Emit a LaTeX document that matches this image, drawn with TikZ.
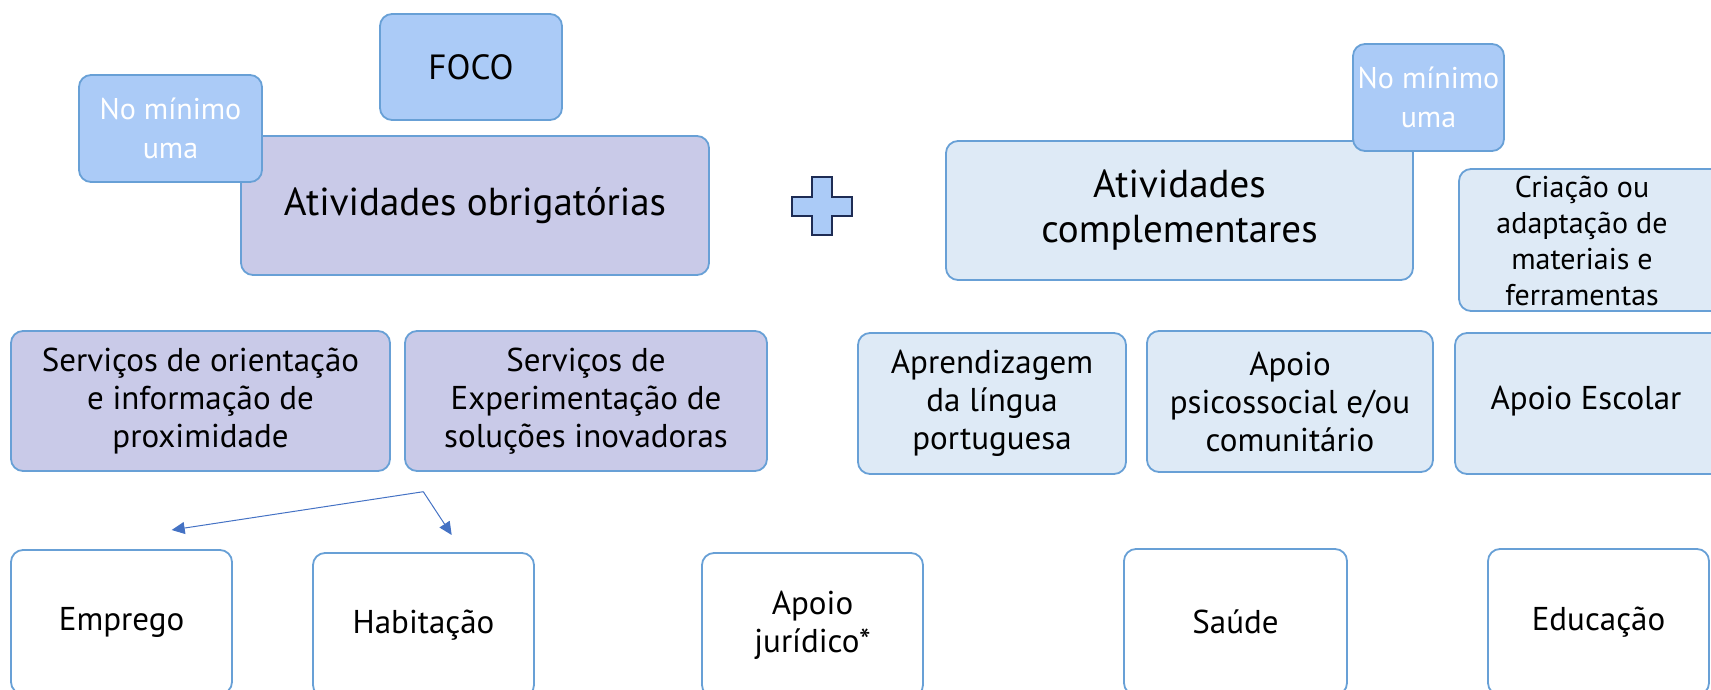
\documentclass[tikz,border=0pt]{standalone}
\usepackage{fontspec}
\setmainfont{PT Sans}
\usetikzlibrary{arrows.meta}
\definecolor{bordc}{RGB}{104,160,214}
\definecolor{purpc}{RGB}{201,202,232}
\definecolor{lightc}{RGB}{222,234,246}
\definecolor{midc}{RGB}{171,203,247}
\definecolor{navyc}{RGB}{30,44,84}
\definecolor{arrc}{RGB}{68,114,196}
\tikzset{
  box/.style={draw=bordc, line width=1.8pt, rounded corners=12pt, align=center, inner sep=0pt, text=black},
  purp/.style={box, fill=purpc},
  lite/.style={box, fill=lightc},
  mid/.style={box, fill=midc},
  wht/.style={box, fill=white},
  ftA/.style={font=\fontsize{39}{45}\selectfont},
  ftB/.style={font=\fontsize{33}{38}\selectfont},
  ftC/.style={font=\fontsize{30}{36}\selectfont},
  ftN/.style={font=\fontsize{30}{39}\selectfont},
  ftF/.style={font=\fontsize{35}{40}\selectfont},
  arr/.style={draw=arrc, line width=1pt, -{Triangle[length=13pt,width=12pt]}},
}
\begin{document}
\begin{tikzpicture}[x=1pt,y=-1pt]
\useasboundingbox (0,0) rectangle (1711,690);
\clip (0,0) rectangle (1711,690);
% top row left
\node[mid, ftF, minimum width=182pt, minimum height=106pt] (foco) at (471,67) {FOCO};
\node[purp, ftA, minimum width=468pt, minimum height=139pt] (obrig) at (475,205.5) {Atividades obrigatórias};
\node[mid, ftN, text=white, minimum width=183pt, minimum height=107pt] (noL) at (170.5,128.5) {No mínimo\\uma};
% plus
\draw[fill=midc, draw=navyc, line width=2.2pt]
  (812.3,177.3) -- (831.7,177.3) -- (831.7,197.3) -- (851.7,197.3) -- (851.7,215.7) -- (831.7,215.7)
  -- (831.7,235.3) -- (812.3,235.3) -- (812.3,215.7) -- (792,215.7) -- (792,197.3) -- (812.3,197.3) -- cycle;
% top row right
\node[lite, ftA, minimum width=467pt, minimum height=139pt] (compl) at (1179.5,210.5) {Atividades\\complementares};
\node[mid, ftN, text=white, minimum width=151pt, minimum height=107pt] (noR) at (1428.5,97.5) {No mínimo\\uma};
\node[lite, minimum width=271pt, minimum height=142pt] (criac) at (1594.5,240) {};
\node[ftC, align=center, inner sep=0pt] (criact) at (1582,241) {Criação ou\\adaptação de\\materiais e\\ferramentas};
% middle row
\node[purp, ftB, minimum width=379pt, minimum height=140pt] (orient) at (200.5,401) {Serviços de orientação\\e informação de\\proximidade};
\node[purp, ftB, minimum width=362pt, minimum height=140pt] (exper) at (586,401) {Serviços de\\Experimentação de\\soluções inovadoras};
\node[lite, ftB, minimum width=268pt, minimum height=141pt] (aprend) at (992,403.5) {Aprendizagem\\da língua\\portuguesa};
\node[lite, ftB, minimum width=286pt, minimum height=141pt] (psico) at (1290,401.5) {Apoio\\psicossocial e/ou\\comunitário};
\node[lite, minimum width=275pt, minimum height=141pt] (escolar) at (1592.5,403.5) {};
\node[ftB, inner sep=0pt] (escolart) at (1586,401) {Apoio Escolar};
% bottom row
\node[wht, ftB, minimum width=221pt, minimum height=144pt] (emprego) at (121.5,622) {Emprego};
\node[wht, ftB, minimum width=221pt, minimum height=144pt] (habit) at (423.5,625) {Habitação};
\node[wht, ftB, minimum width=221pt, minimum height=144pt] (jurid) at (812.5,625) {Apoio\\jurídico*};
\node[wht, ftB, minimum width=223pt, minimum height=146pt] (saude) at (1235.5,622) {Saúde};
\node[wht, ftB, minimum width=221pt, minimum height=146pt] (educ) at (1598.5,622) {Educação};
% arrows
\coordinate (asrc) at (423.3,491.7);
\coordinate (aL) at (171.7,530);
\coordinate (aR) at (451.7,535);
\draw[arr] (asrc) -- (aL);
\draw[arr] (asrc) -- (aR);
\end{tikzpicture}
\end{document}
